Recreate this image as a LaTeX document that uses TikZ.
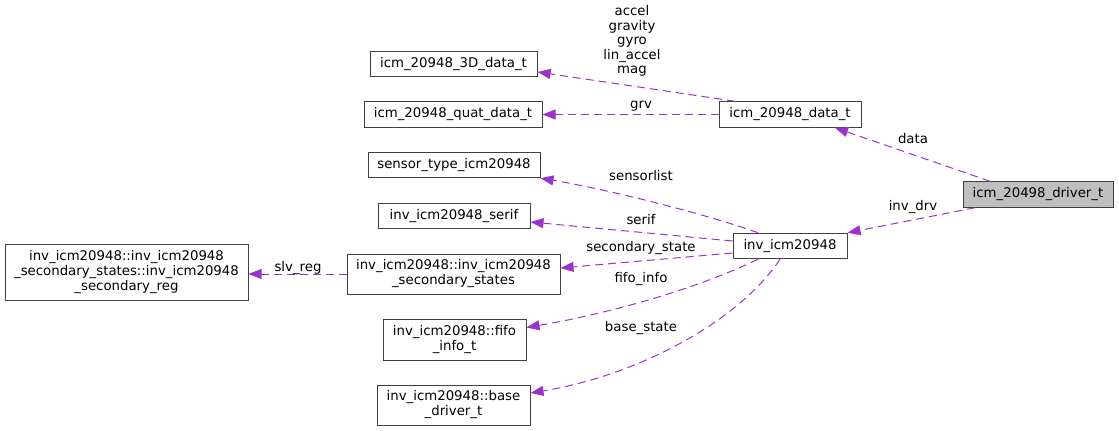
\documentclass[tikz,border=0pt]{standalone}
\usepackage{fontspec}
\setmainfont{DejaVu Sans}
\usepackage{xcolor}
\usepackage{tikz}
\usetikzlibrary{arrows.meta, positioning}

\definecolor{edgepurple}{HTML}{9A32CD}
\definecolor{boxline}{HTML}{404040}
\definecolor{rootfill}{HTML}{BFBFBF}

\begin{document}
\begin{tikzpicture}[
    x=1pt, y=-1pt,
    every node/.style={font=\fontsize{13.3}{15}\selectfont},
    cls/.style={rectangle, draw=boxline, line width=1pt, fill=white, minimum height=25.5pt, inner sep=2pt, align=center},
    root/.style={cls, fill=rootfill},
    member/.style={edgepurple, line width=1pt, dash pattern=on 8pt off 5pt, -{Triangle[length=13pt, width=10pt]}},
    lbl/.style={inner sep=0pt, align=center}
]
\useasboundingbox (0,0) rectangle (1119,431);

% Classes
\node[root, minimum width=150pt] (Driver) at (1038,194.5) {icm\_20498\_driver\_t};
\node[cls, minimum width=142pt] (DataT) at (790,114.5) {icm\_20948\_data\_t};
\node[cls, minimum width=167pt] (Data3D) at (453.5,64) {icm\_20948\_3D\_data\_t};
\node[cls, minimum width=178pt] (QuatData) at (453,114.5) {icm\_20948\_quat\_data\_t};
\node[cls, minimum width=114pt] (Inv) at (790,246) {inv\_icm20948};
\node[cls, minimum width=172pt] (Sensor) at (454,165) {sensor\_type\_icm20948};
\node[cls, minimum width=152pt] (Serif) at (454,216) {inv\_icm20948\_serif};
\node[cls, minimum width=213pt, minimum height=40pt] (SecStates) at (453.5,274) {inv\_icm20948::inv\_icm20948\\\_secondary\_states};
\node[cls, minimum width=243pt, minimum height=56pt] (SecReg) at (126.5,272.5) {inv\_icm20948::inv\_icm20948\\\_secondary\_states::inv\_icm20948\\\_secondary\_reg};
\node[cls, minimum width=143pt, minimum height=41pt] (FifoInfo) at (454.5,339.5) {inv\_icm20948::fifo\\\_info\_t};
\node[cls, minimum width=153pt, minimum height=40pt] (BaseDrv) at (453.5,405) {inv\_icm20948::base\\\_driver\_t};

% Edges from the driver
\draw[member] ([xshift=-48pt]Driver.north) -- ([xshift=45pt]DataT.south);
\draw[member] ([xshift=-63pt]Driver.south) -- (Inv.north east);

% Edges from icm_20948_data_t
\draw[member] ([xshift=-55pt]DataT.north) -- ([yshift=-8pt]Data3D.east);
\draw[member] (DataT.west) -- (QuatData.east);

% Edges from inv_icm20948
\draw[member] ([xshift=-32pt]Inv.north) .. controls (700,212) and (600,188) .. (Sensor.south east);
\draw[member] ([yshift=5pt]Inv.west) -- ([yshift=-6pt]Serif.east);
\draw[member] ([yshift=-7pt]Inv.west) -- ([yshift=6pt]SecStates.east);
\draw[member] ([xshift=-32pt]Inv.south) .. controls (690,292) and (600,315) .. ([yshift=12pt]FifoInfo.east);
\draw[member] ([xshift=-10pt]Inv.south) .. controls (740,320) and (640,375) .. ([yshift=12pt]BaseDrv.east);
\draw[member] (SecStates.west) -- ([yshift=-1.5pt]SecReg.east);

% Labels
\node[lbl] (LData) at (913,139) {data};
\node[lbl] (LInvDrv) at (913,207) {inv\_drv};
\node[lbl, font=\fontsize{13.3}{14.5}\selectfont] (LVec) at (632,41) {accel\\gravity\\gyro\\lin\_accel\\mag};
\node[lbl] (LGrv) at (641,106) {grv};
\node[lbl] (LSensor) at (641,176) {sensorlist};
\node[lbl] (LSerif) at (641,220) {serif};
\node[lbl] (LSecState) at (641,248) {secondary\_state};
\node[lbl] (LFifo) at (641,279) {fifo\_info};
\node[lbl] (LBase) at (641,328) {base\_state};
\node[lbl] (LSlv) at (298,268) {slv\_reg};

\end{tikzpicture}
\end{document}
